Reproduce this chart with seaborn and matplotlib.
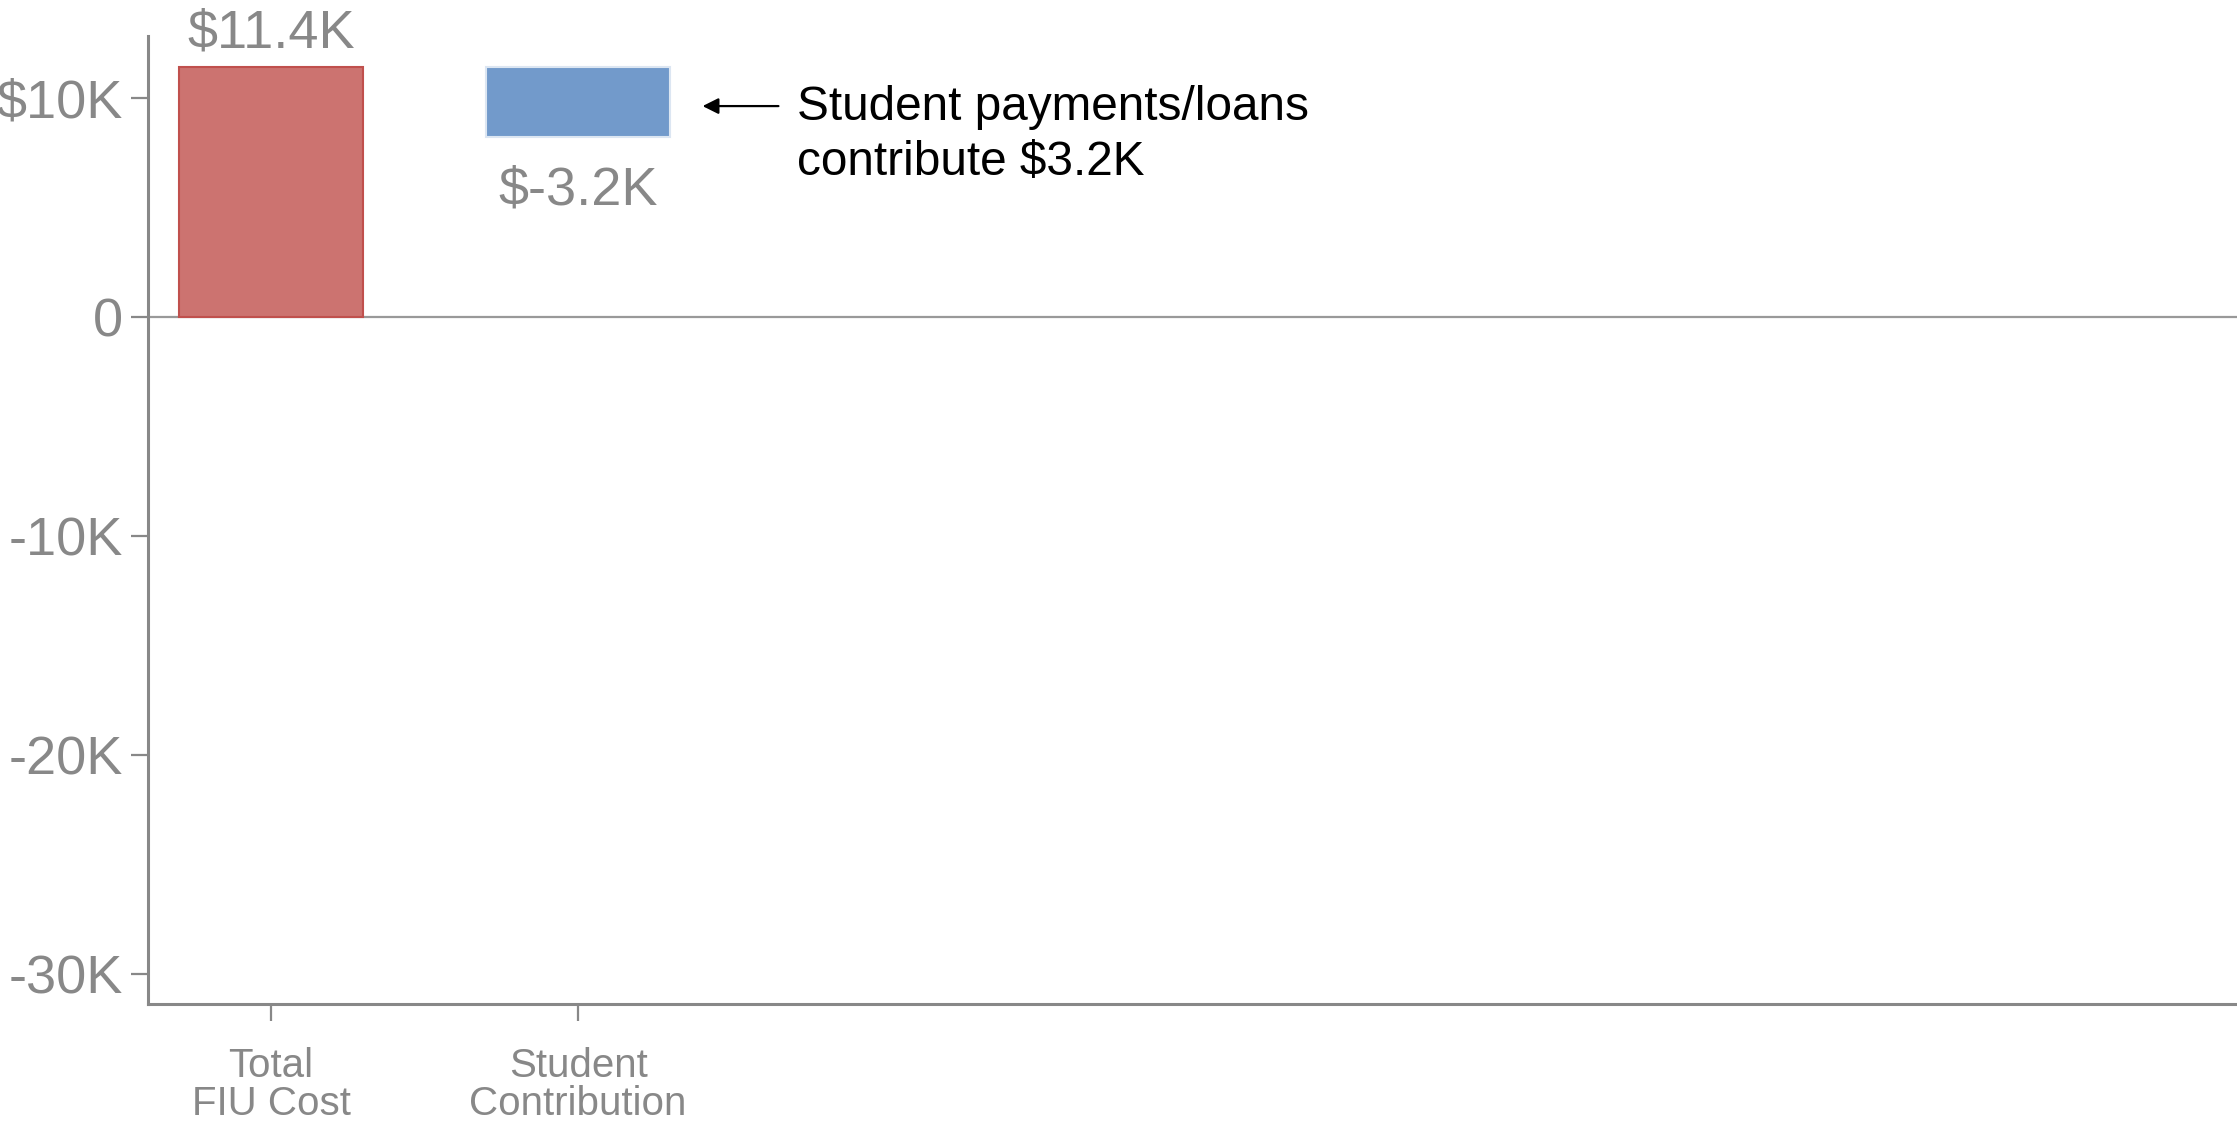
import matplotlib
matplotlib.use("Agg")
import matplotlib.pyplot as plt
import seaborn as sns
import numpy as np
import pandas as pd

# Waterfall steps
categories = ["Total\nFIU Cost", "Student\nContribution"]
deltas = [11400, -3200]
bar_colors = ["#cc7370", "#729acb"]
edge_colors = ["#c0504d", "#dce6f2"]
value_labels = ["$11.4K", "$-3.2K"]
ytick_values = [10000, 0, -10000, -20000, -30000]
ytick_labels = ["$10K", "0", "-10K", "-20K", "-30K"]
note_text = "Student payments/loans\ncontribute $3.2K"

starts = np.concatenate([[0], np.cumsum(deltas)[:-1]])
ends = starts + np.array(deltas)

sns.set_theme(style="white")
plt.rcParams["font.family"] = ["Liberation Sans", "DejaVu Sans"]

gray = "#888888"
fig = plt.figure(figsize=(22.37, 11.25), dpi=100)
ax = fig.add_axes([0.0662, 0.1076, 0.9338, 0.8604])

df = pd.DataFrame({"step": categories, "delta": deltas})
sns.barplot(data=df, x="step", y="delta", hue="step", order=categories,
            palette=bar_colors, width=0.6, legend=False, ax=ax, saturation=1)

# shift each bar to float on the running total
for patch, s, d, ec in zip(ax.patches, starts, deltas, edge_colors):
    patch.set_y(s)
    patch.set_height(d)
    patch.set_edgecolor(ec)
    patch.set_linewidth(1.5)

ax.set_xlim(-0.4, 6.4)
ax.set_ylim(-31370, 12830)
ax.axhline(0, color="#999999", lw=1.6, zorder=0.5)

ax.set_yticks(ytick_values)
ax.set_yticklabels(ytick_labels)
ax.set_xlabel("")
ax.set_ylabel("")
ax.tick_params(axis="y", colors=gray, labelsize=39, length=12, width=1.6, pad=6, left=True)
ax.tick_params(axis="x", colors=gray, labelsize=29, length=12, width=1.6, pad=19, bottom=True)
for lab in ax.get_xticklabels():
    lab.set_linespacing(1.0)

for side in ["top", "right"]:
    ax.spines[side].set_visible(False)
for side in ["left", "bottom"]:
    ax.spines[side].set_color(gray)
    ax.spines[side].set_linewidth(2.2)

# value labels
for i, (s, e, d, lab) in enumerate(zip(starts, ends, deltas, value_labels)):
    offset = 24 if d >= 0 else -38
    ax.annotate(lab, xy=(i, e), xytext=(0, offset), textcoords="offset points",
                ha="center", va="center", fontsize=39, color=gray,
                annotation_clip=False)

# callout for the contribution step
ax.annotate("", xy=(1.405, 9630), xytext=(1.652, 9630),
            arrowprops=dict(arrowstyle="-|>", color="black", lw=1.6,
                            mutation_scale=24, shrinkA=0, shrinkB=0))
ax.text(1.714, 8300, note_text, ha="left", va="center", fontsize=34.4,
        color="black", linespacing=1.30)

fig.savefig("out.png", dpi=100)
